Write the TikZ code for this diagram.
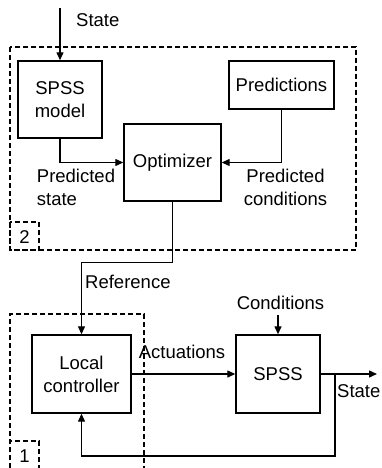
\documentclass[tikz,border=0pt]{standalone}
\usepackage{fontspec}
\setmainfont{Liberation Sans}
\usetikzlibrary{arrows.meta, positioning}
\tikzset{
    block/.style={rectangle, draw, line width=1.4pt, align=center, inner sep=0pt},
    lbl/.style={inner sep=0pt, align=center},
    dashbox/.style={draw, line width=1.6pt, dash pattern=on 5pt off 3pt},
    arr/.style={draw, line width=1.3pt, -{Triangle[length=8pt, width=7pt]}},
}

\begin{document}
\begin{tikzpicture}[x=1pt, y=-1pt, font=\fontsize{18.5}{23}\selectfont]
    \useasboundingbox (0,0) rectangle (382,468);
    % upper level
    \node[block, minimum width=84pt, minimum height=77pt] (model) at (60,99.5) {SPSS\\model};
    \node[block, minimum width=105pt, minimum height=48pt] (pred) at (281.5,85) {Predictions};
    \node[block, minimum width=97pt, minimum height=77pt] (opt) at (172.5,162.5) {Optimizer};
    % lower level
    \node[block, minimum width=99pt, minimum height=78pt] (lc) at (81.5,374) {Local\\controller};
    \node[block, minimum width=84pt, minimum height=78pt] (spss) at (278,374) {SPSS};
    % labels
    \node[lbl, anchor=west] (stlbl) at (76,20) {State};
    \node[lbl, align=left] (pslbl) at (76,187) {Predicted\\state};
    \node[lbl] (pclbl) at (285.5,187) {Predicted\\conditions};
    \node[lbl, anchor=west] (reflbl) at (85,282) {Reference};
    \node[lbl] (condlbl) at (280.5,303) {Conditions};
    \node[lbl] (actlbl) at (182,352) {Actuations};
    \node[lbl, anchor=west] (outlbl) at (337,391) {State};
    \node[lbl] (two) at (24.5,237) {2};
    \node[lbl] (one) at (24.5,456) {1};
    % free ends
    \coordinate (stin) at (60,8);
    \coordinate (condin) at (278,315);
    \coordinate (stout) at (377,374);
    \coordinate (tap) at (335,374);
    % level boxes
    \draw[dashbox] (10,47) rectangle (356,250);
    \draw[dashbox] (10,222) rectangle (39,250);
    \draw[dashbox] (10,468) |- (144,314) -- (144,468);
    \draw[dashbox] (10,468) |- (39,441) -- (39,468);
    % connectors
    \draw[arr] (stin) -- (model.north);
    \draw[arr] (model.south) |- (opt.west);
    \draw[arr] (pred.south) |- (opt.east);
    \draw[arr] (opt.south) -- ++(0,61) -| (lc.north);
    \draw[arr] (lc.east) -- (spss.west);
    \draw[arr] (condin) -- (spss.north);
    \draw[arr] (spss.east) -- (stout);
    \draw[arr] (tap) -- ++(0,82) -| (lc.south);
\end{tikzpicture}
\end{document}
